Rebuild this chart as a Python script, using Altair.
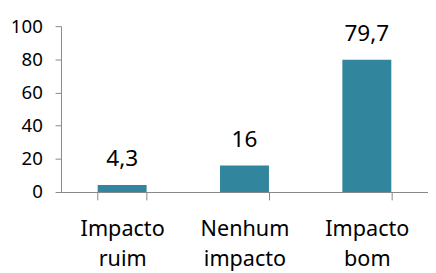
import altair as alt
import pandas as pd

categories = ["Impacto ruim", "Nenhum impacto", "Impacto bom"]
values = [4.3, 16, 79.7]
value_labels = ["4,3", "16", "79,7"]
y_ticks = [0, 20, 40, 60, 80, 100]

df = pd.DataFrame({"cat": categories, "val": values, "lab": value_labels})

FONT = "Noto Sans"
AXIS_COLOR = "#868686"
BAR_COLOR = "#31859C"

x = alt.X(
    "cat:N",
    sort=categories,
    title=None,
    scale=alt.Scale(paddingInner=0.6, paddingOuter=0.3),
    axis=alt.Axis(
        labelAngle=0,
        labelExpr="split(datum.label, ' ')",
        tickBand="extent",
        tickSize=8,
        labelPadding=36,
        labelBaseline="alphabetic",
        labelFontSize=22,
        labelFont=FONT,
        labelColor="black",
        labelLineHeight=31,
        labelLimit=0,
        domainColor=AXIS_COLOR,
        tickColor=AXIS_COLOR,
    ),
)
y = alt.Y(
    "val:Q",
    title=None,
    scale=alt.Scale(domain=[0, 100], nice=False),
    axis=alt.Axis(
        values=y_ticks,
        grid=False,
        tickSize=6,
        labelPadding=13,
        labelFontSize=19,
        labelFont=FONT,
        labelColor="black",
        labelOverlap=False,
        labelFlush=False,
        domainColor=AXIS_COLOR,
        tickColor=AXIS_COLOR,
    ),
)

base = alt.Chart(df).encode(x=x, y=y)
bars = base.mark_bar(color=BAR_COLOR)
texts = base.mark_text(
    font=FONT, fontSize=23, color="black", baseline="alphabetic", dy=-19
).encode(text="lab:N")

chart = (
    (bars + texts)
    .properties(
        width=374,
        height=169,
        autosize=alt.AutoSizeParams(type="none"),
        padding={"left": 54, "top": 16, "right": 0, "bottom": 80},
    )
    .configure_view(stroke=None)
)

chart.save("out.html", embed_options={"renderer": "svg", "actions": False})
